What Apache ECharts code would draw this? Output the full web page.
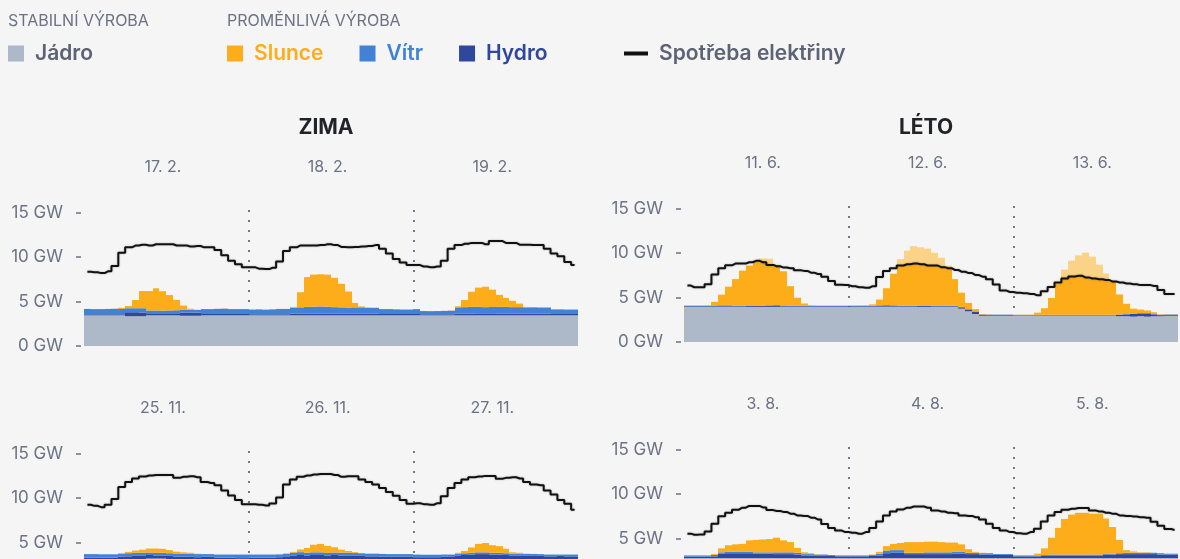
<!DOCTYPE html>
<html>
<head>
<meta charset="utf-8">
<script src="https://cdn.jsdelivr.net/npm/echarts@6/dist/echarts.min.js"></script>
<style>
  html, body { margin: 0; background: #f5f5f5; }
  #chart { width: 1180px; height: 559px; }
</style>
</head>
<body>
<div id="chart"></div>
<script>
// ---- data (GW, hourly, 3 days per panel) ----
const febDays = ['17. 2.', '18. 2.', '19. 2.'];
const junDays = ['11. 6.', '12. 6.', '13. 6.'];
const novDays = ['25. 11.', '26. 11.', '27. 11.'];
const augDays = ['3. 8.', '4. 8.', '5. 8.'];

const febDemand = [
  8.35, 8.3, 8.2, 8.4, 9.0, 10.5, 11.1, 11.3, 11.4, 11.3, 11.45, 11.45, 11.45, 11.3, 11.3, 11.2, 11.25, 11.1, 11.1, 10.8, 10.2, 9.6, 9.2, 8.85,
  8.85, 8.7, 8.65, 8.8, 9.5, 10.7, 11.1, 11.3, 11.3, 11.3, 11.35, 11.45, 11.35, 11.15, 11.1, 11.15, 11.2, 11.25, 11.35, 10.95, 10.4, 9.8, 9.4, 9.1,
  9.1, 8.95, 8.85, 8.95, 9.6, 10.95, 11.35, 11.5, 11.6, 11.6, 11.45, 11.8, 11.8, 11.6, 11.6, 11.4, 11.4, 11.35, 11.35, 10.95, 10.4, 10.1, 9.45, 9.1
];
const febNuclear = [
  3.45, 3.45, 3.45, 3.45, 3.45, 3.45, 3.35, 3.35, 3.35, 3.45, 3.45, 3.45, 3.45, 3.45, 3.4, 3.4, 3.4, 3.45, 3.45, 3.45, 3.45, 3.45, 3.45, 3.45,
  3.45, 3.45, 3.45, 3.45, 3.45, 3.45, 3.45, 3.45, 3.45, 3.45, 3.45, 3.45, 3.45, 3.45, 3.45, 3.45, 3.45, 3.45, 3.45, 3.45, 3.45, 3.45, 3.45, 3.45,
  3.45, 3.45, 3.45, 3.45, 3.45, 3.45, 3.45, 3.45, 3.45, 3.45, 3.45, 3.45, 3.45, 3.45, 3.45, 3.45, 3.45, 3.45, 3.45, 3.45, 3.45, 3.45, 3.45, 3.45
];
const febHydro = [
  0.12, 0.12, 0.12, 0.12, 0.12, 0.12, 0.45, 0.45, 0.42, 0.15, 0.15, 0.15, 0.15, 0.15, 0.35, 0.35, 0.35, 0.15, 0.15, 0.15, 0.15, 0.15, 0.15, 0.15,
  0.12, 0.12, 0.12, 0.12, 0.12, 0.12, 0.2, 0.2, 0.2, 0.2, 0.2, 0.2, 0.2, 0.2, 0.2, 0.2, 0.2, 0.2, 0.2, 0.15, 0.15, 0.15, 0.15, 0.15,
  0.15, 0.12, 0.12, 0.12, 0.12, 0.12, 0.2, 0.2, 0.2, 0.22, 0.22, 0.22, 0.2, 0.2, 0.2, 0.2, 0.2, 0.2, 0.2, 0.2, 0.15, 0.15, 0.15, 0.15
];
const febWind = [
  0.6, 0.58, 0.58, 0.6, 0.62, 0.6, 0.45, 0.45, 0.48, 0.4, 0.4, 0.38, 0.4, 0.42, 0.3, 0.32, 0.3, 0.55, 0.55, 0.58, 0.6, 0.55, 0.55, 0.55,
  0.53, 0.55, 0.52, 0.55, 0.6, 0.6, 0.65, 0.7, 0.75, 0.78, 0.8, 0.78, 0.72, 0.7, 0.68, 0.7, 0.7, 0.66, 0.65, 0.55, 0.55, 0.52, 0.5, 0.5,
  0.55, 0.36, 0.35, 0.36, 0.38, 0.4, 0.7, 0.72, 0.75, 0.75, 0.7, 0.72, 0.75, 0.75, 0.72, 0.72, 0.7, 0.7, 0.68, 0.68, 0.52, 0.52, 0.5, 0.5
];
const febSolar = [
  0, 0, 0, 0, 0, 0.13, 0.25, 0.92, 1.93, 2.18, 2.5, 2.18, 1.73, 1.17, 0.5, 0.12, 0.03, 0, 0, 0, 0, 0, 0, 0,
  0, 0, 0, 0, 0, 0, 0.1, 1.7, 3.35, 3.6, 3.62, 3.6, 3.3, 2.65, 1.8, 0.5, 0.1, 0, 0, 0, 0, 0, 0, 0,
  0, 0, 0, 0, 0, 0.03, 0.12, 0.8, 1.7, 2.15, 2.3, 1.95, 1.35, 1.0, 0.7, 0.4, 0.05, 0, 0, 0, 0, 0, 0, 0
];

const junDemand = [
  6.35, 6.16, 6.16, 6.5, 7.6, 8.3, 8.63, 8.82, 8.82, 8.97, 9.13, 8.97, 8.67, 8.52, 8.37, 8.3, 8.07, 8.0, 7.8, 7.65, 7.35, 6.85, 6.43, 6.4,
  6.28, 6.16, 6.1, 6.28, 7.3, 8.0, 8.3, 8.6, 8.75, 8.82, 8.75, 8.6, 8.6, 8.42, 8.3, 8.1, 7.9, 7.75, 7.53, 7.35, 7.07, 6.47, 5.78, 5.63,
  5.55, 5.48, 5.4, 5.25, 5.7, 6.2, 6.7, 7.15, 7.38, 7.45, 7.27, 7.15, 7.05, 6.97, 6.8, 6.7, 6.58, 6.5, 6.4, 6.4, 6.3, 5.86, 5.4, 5.4
];
const junNuclear = [
  3.95, 3.95, 3.95, 3.95, 3.95, 3.95, 3.95, 3.95, 3.95, 3.95, 3.95, 3.95, 3.95, 3.95, 3.95, 3.95, 3.95, 3.95, 3.95, 3.95, 3.95, 3.95, 3.95, 3.95,
  3.95, 3.95, 3.95, 3.95, 3.95, 3.95, 3.95, 3.95, 3.95, 3.95, 3.95, 3.95, 3.95, 3.95, 3.95, 3.95, 3.75, 3.45, 3.15, 2.95, 2.95, 2.95, 2.95, 2.95,
  2.95, 2.95, 2.95, 2.95, 2.95, 2.95, 2.95, 2.95, 2.95, 2.95, 2.95, 2.95, 2.95, 2.95, 2.95, 2.9, 2.9, 2.85, 2.9, 2.85, 2.9, 2.9, 2.95, 2.95
];
const junHydro = [
  0.08, 0.08, 0.08, 0.08, 0.08, 0.08, 0.08, 0.08, 0.08, 0.1, 0.1, 0.1, 0.1, 0.1, 0.08, 0.08, 0.08, 0.08, 0.08, 0.08, 0.08, 0.08, 0.08, 0.08,
  0.08, 0.08, 0.08, 0.08, 0.08, 0.08, 0.08, 0.08, 0.08, 0.08, 0.1, 0.1, 0.08, 0.08, 0.08, 0.08, 0.15, 0.2, 0.25, 0.1, 0.08, 0.08, 0.08, 0.08,
  0.05, 0.05, 0.05, 0.05, 0.05, 0.05, 0.05, 0.05, 0.05, 0.05, 0.05, 0.05, 0.05, 0.05, 0.05, 0.15, 0.2, 0.3, 0.25, 0.3, 0.2, 0.12, 0.1, 0.1
];
const junWind = [
  0.05, 0.05, 0.05, 0.05, 0.08, 0.1, 0.1, 0.05, 0.05, 0.05, 0.05, 0.05, 0.08, 0.1, 0.08, 0.05, 0.05, 0.05, 0.05, 0.05, 0.05, 0.05, 0.05, 0.05,
  0.05, 0.05, 0.05, 0.05, 0.1, 0.12, 0.1, 0.05, 0.05, 0.05, 0.05, 0.05, 0.05, 0.05, 0.05, 0.05, 0.05, 0.05, 0.05, 0.05, 0.05, 0.05, 0.05, 0.05,
  0.05, 0.05, 0.05, 0.05, 0.05, 0.05, 0.05, 0.05, 0.05, 0.05, 0.05, 0.05, 0.05, 0.05, 0.05, 0.05, 0.05, 0.05, 0.1, 0.1, 0.1, 0.05, 0.05, 0.05
];
const junSolar = [
  0.03, 0.03, 0.03, 0.05, 0.4, 1.2, 2.1, 3.0, 3.95, 4.5, 4.92, 5.3, 5.25, 4.55, 3.85, 2.2, 0.9, 0.25, 0.05, 0, 0, 0, 0, 0,
  0.03, 0.03, 0.05, 0.15, 0.65, 1.9, 3.55, 5.25, 6.2, 6.7, 6.55, 6.4, 5.95, 5.4, 4.5, 3.0, 1.6, 0.7, 0.25, 0.05, 0.03, 0, 0, 0,
  0.03, 0.03, 0.03, 0.25, 0.75, 1.9, 3.55, 5.1, 6.1, 6.7, 7.0, 6.55, 5.65, 4.65, 3.8, 2.25, 1.15, 0.55, 0.4, 0.3, 0.15, 0.05, 0.03, 0.03
];

const novDemand = [
  9.25, 9.13, 8.98, 9.25, 9.9, 11.25, 11.82, 12.2, 12.43, 12.55, 12.6, 12.6, 12.6, 12.28, 12.4, 12.45, 12.35, 11.82, 11.7, 11.45, 10.85, 10.3, 9.78, 9.32,
  9.32, 9.25, 9.17, 9.4, 10.08, 11.52, 12.1, 12.4, 12.55, 12.65, 12.72, 12.72, 12.6, 12.4, 12.45, 12.45, 12.1, 11.82, 11.52, 11.13, 10.68, 10.26, 9.8, 9.36,
  9.43, 9.32, 9.25, 9.43, 10.2, 11.13, 11.7, 12.1, 12.35, 12.43, 12.5, 12.5, 12.17, 12.28, 12.35, 12.2, 11.82, 11.52, 11.45, 10.85, 10.4, 9.8, 9.36, 8.68
];
const novNuclear = [
  3.0, 3.0, 3.0, 3.0, 3.05, 3.1, 3.1, 3.15, 3.15, 3.2, 3.2, 3.2, 3.15, 3.1, 3.1, 3.1, 3.1, 3.15, 3.15, 3.1, 3.1, 3.1, 3.05, 3.05,
  3.1, 3.1, 3.1, 3.1, 3.1, 3.1, 3.1, 3.1, 3.05, 3.05, 3.05, 3.05, 3.1, 3.1, 3.1, 3.1, 3.1, 3.1, 3.1, 3.1, 3.1, 3.1, 3.1, 3.1,
  3.05, 3.05, 3.05, 3.05, 3.05, 3.0, 3.0, 2.95, 2.95, 2.95, 2.95, 2.95, 3.0, 3.0, 3.0, 3.0, 3.0, 3.0, 3.0, 3.0, 3.0, 3.0, 3.0, 3.0
];
const novHydro = [
  0.3, 0.3, 0.3, 0.3, 0.25, 0.3, 0.35, 0.4, 0.4, 0.4, 0.35, 0.35, 0.35, 0.3, 0.3, 0.3, 0.25, 0.25, 0.25, 0.2, 0.2, 0.2, 0.2, 0.2,
  0.2, 0.2, 0.2, 0.2, 0.25, 0.35, 0.45, 0.5, 0.5, 0.55, 0.55, 0.5, 0.5, 0.45, 0.45, 0.4, 0.4, 0.35, 0.35, 0.3, 0.3, 0.3, 0.3, 0.3,
  0.3, 0.3, 0.3, 0.3, 0.35, 0.45, 0.55, 0.65, 0.7, 0.75, 0.75, 0.7, 0.65, 0.6, 0.55, 0.55, 0.5, 0.5, 0.5, 0.45, 0.45, 0.5, 0.45, 0.45
];
const novWind = [
  0.4, 0.4, 0.38, 0.38, 0.38, 0.35, 0.35, 0.3, 0.3, 0.28, 0.28, 0.3, 0.3, 0.32, 0.35, 0.35, 0.35, 0.3, 0.3, 0.35, 0.35, 0.35, 0.4, 0.4,
  0.35, 0.35, 0.35, 0.35, 0.32, 0.3, 0.3, 0.32, 0.3, 0.3, 0.3, 0.28, 0.28, 0.3, 0.3, 0.32, 0.3, 0.3, 0.3, 0.32, 0.3, 0.3, 0.3, 0.3,
  0.3, 0.28, 0.28, 0.28, 0.25, 0.2, 0.2, 0.2, 0.2, 0.2, 0.2, 0.2, 0.2, 0.2, 0.2, 0.2, 0.22, 0.22, 0.2, 0.2, 0.2, 0.15, 0.2, 0.2
];
const novSolar = [
  0, 0, 0, 0, 0, 0.05, 0.15, 0.25, 0.35, 0.45, 0.5, 0.45, 0.35, 0.25, 0.15, 0.1, 0.05, 0, 0, 0, 0, 0, 0, 0,
  0, 0, 0, 0, 0, 0, 0.1, 0.3, 0.55, 0.85, 0.95, 0.8, 0.6, 0.35, 0.2, 0.1, 0.03, 0, 0, 0, 0, 0, 0, 0,
  0, 0, 0, 0, 0, 0, 0.1, 0.25, 0.6, 0.95, 1.05, 0.85, 0.75, 0.5, 0.15, 0.1, 0.03, 0, 0, 0, 0, 0, 0, 0
];

const augDemand = [
  5.55, 5.43, 5.47, 5.8, 6.67, 7.5, 7.9, 8.25, 8.47, 8.67, 8.67, 8.5, 8.2, 8.1, 8.0, 7.8, 7.6, 7.55, 7.35, 7.15, 6.65, 6.18, 5.9, 5.73,
  5.65, 5.55, 5.73, 6.18, 6.93, 7.6, 8.05, 8.28, 8.47, 8.6, 8.6, 8.47, 8.17, 8.05, 7.9, 7.85, 7.6, 7.55, 7.4, 7.15, 6.67, 6.18, 5.9, 5.73,
  5.6, 5.55, 5.73, 6.1, 6.93, 7.6, 8.0, 8.25, 8.35, 8.43, 8.43, 8.17, 8.05, 7.9, 7.78, 7.6, 7.55, 7.47, 7.4, 7.35, 6.9, 6.45, 6.07, 5.97
];
const augNuclear = [
  2.8, 2.8, 2.8, 2.8, 2.8, 2.8, 2.8, 2.8, 2.8, 2.8, 2.8, 2.8, 2.8, 2.8, 2.8, 2.8, 2.8, 2.8, 2.8, 2.8, 2.8, 2.8, 2.8, 2.8,
  2.8, 2.8, 2.8, 2.8, 2.8, 2.8, 2.8, 2.8, 2.8, 2.8, 2.8, 2.8, 2.8, 2.8, 2.8, 2.8, 2.8, 2.8, 2.8, 2.8, 2.8, 2.8, 2.8, 2.8,
  2.8, 2.8, 2.8, 2.8, 2.8, 2.8, 2.8, 2.8, 2.8, 2.8, 2.8, 2.8, 2.8, 2.8, 2.8, 2.8, 2.8, 2.8, 2.8, 2.8, 2.8, 2.8, 2.8, 2.8
];
const augHydro = [
  0.15, 0.15, 0.15, 0.15, 0.2, 0.5, 0.55, 0.55, 0.55, 0.55, 0.5, 0.5, 0.5, 0.45, 0.45, 0.45, 0.4, 0.3, 0.3, 0.25, 0.25, 0.25, 0.2, 0.2,
  0.2, 0.2, 0.2, 0.25, 0.3, 0.55, 0.6, 0.6, 0.45, 0.45, 0.45, 0.45, 0.45, 0.45, 0.45, 0.5, 0.5, 0.45, 0.45, 0.4, 0.4, 0.35, 0.35, 0.35,
  0.2, 0.2, 0.2, 0.2, 0.25, 0.3, 0.3, 0.3, 0.3, 0.3, 0.3, 0.3, 0.3, 0.35, 0.4, 0.45, 0.45, 0.45, 0.45, 0.45, 0.45, 0.4, 0.4, 0.4
];
const augWind = [
  0.15, 0.15, 0.15, 0.15, 0.15, 0.15, 0.15, 0.15, 0.15, 0.15, 0.15, 0.15, 0.15, 0.2, 0.2, 0.2, 0.2, 0.15, 0.15, 0.15, 0.15, 0.1, 0.1, 0.1,
  0.1, 0.1, 0.1, 0.1, 0.2, 0.3, 0.3, 0.3, 0.15, 0.15, 0.15, 0.2, 0.2, 0.2, 0.2, 0.2, 0.2, 0.15, 0.15, 0.15, 0.15, 0.1, 0.1, 0.1,
  0.1, 0.1, 0.1, 0.1, 0.1, 0.1, 0.1, 0.1, 0.1, 0.1, 0.1, 0.1, 0.1, 0.1, 0.1, 0.1, 0.15, 0.15, 0.15, 0.15, 0.15, 0.15, 0.1, 0.1
];
const augSolar = [
  0, 0, 0, 0.05, 0.1, 0.45, 0.75, 0.85, 0.9, 1.3, 1.4, 1.45, 1.5, 1.65, 1.35, 1.15, 0.55, 0.2, 0.1, 0.05, 0, 0, 0, 0,
  0, 0, 0, 0.05, 0.2, 0.5, 0.7, 0.8, 1.2, 1.2, 1.2, 1.2, 1.2, 1.15, 1.1, 1.05, 0.85, 0.4, 0.1, 0.05, 0, 0, 0, 0,
  0, 0, 0.05, 0.2, 0.75, 1.9, 3.0, 4.0, 4.5, 4.7, 4.7, 4.6, 4.6, 4.0, 3.0, 1.5, 0.3, 0.15, 0.05, 0.05, 0, 0, 0, 0
];

// ---- look ----
const COLORS = {
  nuclear: '#adb9c9',
  hydro: '#2f479d',
  wind: '#4182d6',
  solar: '#fdad1a',
  solarExtra: '#fbd386',
  demand: '#111111',
  text: '#6b7285',
  legendText: '#5d6375',
};
const FONT = 'Inter, "Noto Sans", sans-serif';

const panels = [
  { days: febDays, demand: febDemand, nuclear: febNuclear, hydro: febHydro, wind: febWind, solar: febSolar, left: 84, top: 210 },
  { days: junDays, demand: junDemand, nuclear: junNuclear, hydro: junHydro, wind: junWind, solar: junSolar, left: 684, top: 206 },
  { days: novDays, demand: novDemand, nuclear: novNuclear, hydro: novHydro, wind: novWind, solar: novSolar, left: 84, top: 451 },
  { days: augDays, demand: augDemand, nuclear: augNuclear, hydro: augHydro, wind: augWind, solar: augSolar, left: 684, top: 447 },
];

// one stacked hourly block; edges snapped to whole pixels so neighbours join without seams
function hourBlock(params, api) {
  const idx = api.value(0);
  const lo = api.value(1);
  const hi = api.value(2);
  if (!(hi > lo)) return null;
  const top = api.coord([idx, hi]);
  const bottom = api.coord([idx, lo]);
  const band = api.size([1, 0])[0];
  const x0 = Math.round(top[0] - band / 2);
  const x1 = Math.round(top[0] + band / 2);
  return {
    type: 'rect',
    shape: { x: x0, y: top[1], width: x1 - x0, height: bottom[1] - top[1] },
    style: { fill: api.visual('color') },
  };
}

const grids = [];
const xAxes = [];
const yAxes = [];
const series = [];

panels.forEach((p, k) => {
  const hours = [];
  p.days.forEach((d) => { for (let h = 0; h < 24; h++) hours.push(d + '|' + h); });

  grids.push({ left: p.left, top: p.top, width: 494, height: 136, outerBoundsMode: 'none', containLabel: false });

  xAxes.push({
    gridIndex: k,
    type: 'category',
    position: 'top',
    data: hours,
    axisLine: { show: false },
    axisTick: { show: false },
    axisLabel: {
      interval: (idx) => idx % 24 === 11,
      formatter: (v) => v.split('|')[0],
      margin: 35,
      color: COLORS.text,
      fontSize: 16,
      fontFamily: FONT,
    },
    splitLine: {
      show: true,
      showMinLine: false,
      showMaxLine: false,
      interval: (idx) => idx % 24 === 0,
      lineStyle: { color: '#70778a', width: 2, type: [2, 8] },
    },
  });

  yAxes.push({
    gridIndex: k,
    type: 'value',
    min: 0,
    max: 15.3,
    offset: 3,
    axisLine: { show: false },
    axisTick: { show: true, length: 5, customValues: [0, 5, 10, 15], lineStyle: { color: COLORS.text, width: 1.5 } },
    axisLabel: {
      customValues: [0, 5, 10, 15],
      formatter: (v) => v + ' GW',
      margin: 18,
      color: COLORS.text,
      fontSize: 17,
      fontFamily: FONT,
    },
    splitLine: { show: false },
  });

  // part of the sun that is covered by consumption vs. the surplus above it
  const sunCovered = p.solar.map((s, i) => {
    const room = Math.max(0, p.demand[i] - p.nuclear[i] - p.hydro[i] - p.wind[i]);
    return +Math.min(s, room).toFixed(2);
  });
  const sunSurplus = p.solar.map((s, i) => +(s - sunCovered[i]).toFixed(2));

  const layers = [
    ['Jádro', p.nuclear, COLORS.nuclear],
    ['Hydro', p.hydro, COLORS.hydro],
    ['Vítr', p.wind, COLORS.wind],
    ['Slunce', sunCovered, COLORS.solar],
    ['Slunce nad spotřebou', sunSurplus, COLORS.solarExtra],
  ];
  const floor = p.nuclear.map(() => 0);
  layers.forEach(([name, vals, color]) => {
    const data = vals.map((v, i) => {
      const lo = floor[i];
      floor[i] = lo + v;
      return [i, lo, lo + v];
    });
    series.push({
      type: 'custom',
      name,
      xAxisIndex: k,
      yAxisIndex: k,
      renderItem: hourBlock,
      encode: { x: 0, y: [1, 2] },
      data,
      silent: true,
      itemStyle: { color },
    });
  });

  series.push({
    type: 'line',
    name: 'Spotřeba elektřiny',
    xAxisIndex: k,
    yAxisIndex: k,
    data: p.demand,
    step: 'middle',
    symbol: 'none',
    silent: true,
    z: 5,
    lineStyle: { color: COLORS.demand, width: 2, shadowColor: 'rgba(0,0,0,0.3)', shadowBlur: 2 },
    itemStyle: { color: COLORS.demand },
  });
});

const legendBase = {
  top: 43,
  padding: 0,
  icon: 'rect',
  itemWidth: 16,
  itemHeight: 16,
  itemGap: 36,
  selectedMode: false,
  textStyle: { fontSize: 21, fontWeight: 600, fontFamily: FONT, color: COLORS.legendText, padding: [0, 0, 0, 6] },
};

const headStyle = { fontSize: 16, fontWeight: 400, fontFamily: FONT, color: COLORS.text };
const seasonStyle = { fontSize: 21, fontWeight: 700, fontFamily: FONT, color: '#222329' };

const chart = echarts.init(document.getElementById('chart'));
chart.setOption({
  backgroundColor: '#f5f5f5',
  animation: false,
  title: [
    { text: 'STABILNÍ VÝROBA', left: 8, top: 13, padding: 0, textStyle: headStyle },
    { text: 'PROMĚNLIVÁ VÝROBA', left: 227, top: 13, padding: 0, textStyle: headStyle },
    { text: 'ZIMA', left: 326, top: 117, padding: 0, textAlign: 'center', textStyle: seasonStyle },
    { text: 'LÉTO', left: 926, top: 117, padding: 0, textAlign: 'center', textStyle: seasonStyle },
  ],
  legend: [
    { ...legendBase, left: 8, data: ['Jádro'] },
    {
      ...legendBase,
      left: 227,
      data: [
        { name: 'Slunce', textStyle: { color: COLORS.solar } },
        { name: 'Vítr', textStyle: { color: COLORS.wind } },
        { name: 'Hydro', textStyle: { color: COLORS.hydro } },
      ],
    },
    { ...legendBase, left: 624, itemWidth: 24, itemHeight: 4, data: ['Spotřeba elektřiny'] },
  ],
  grid: grids,
  xAxis: xAxes,
  yAxis: yAxes,
  series,
});
</script>
</body>
</html>
